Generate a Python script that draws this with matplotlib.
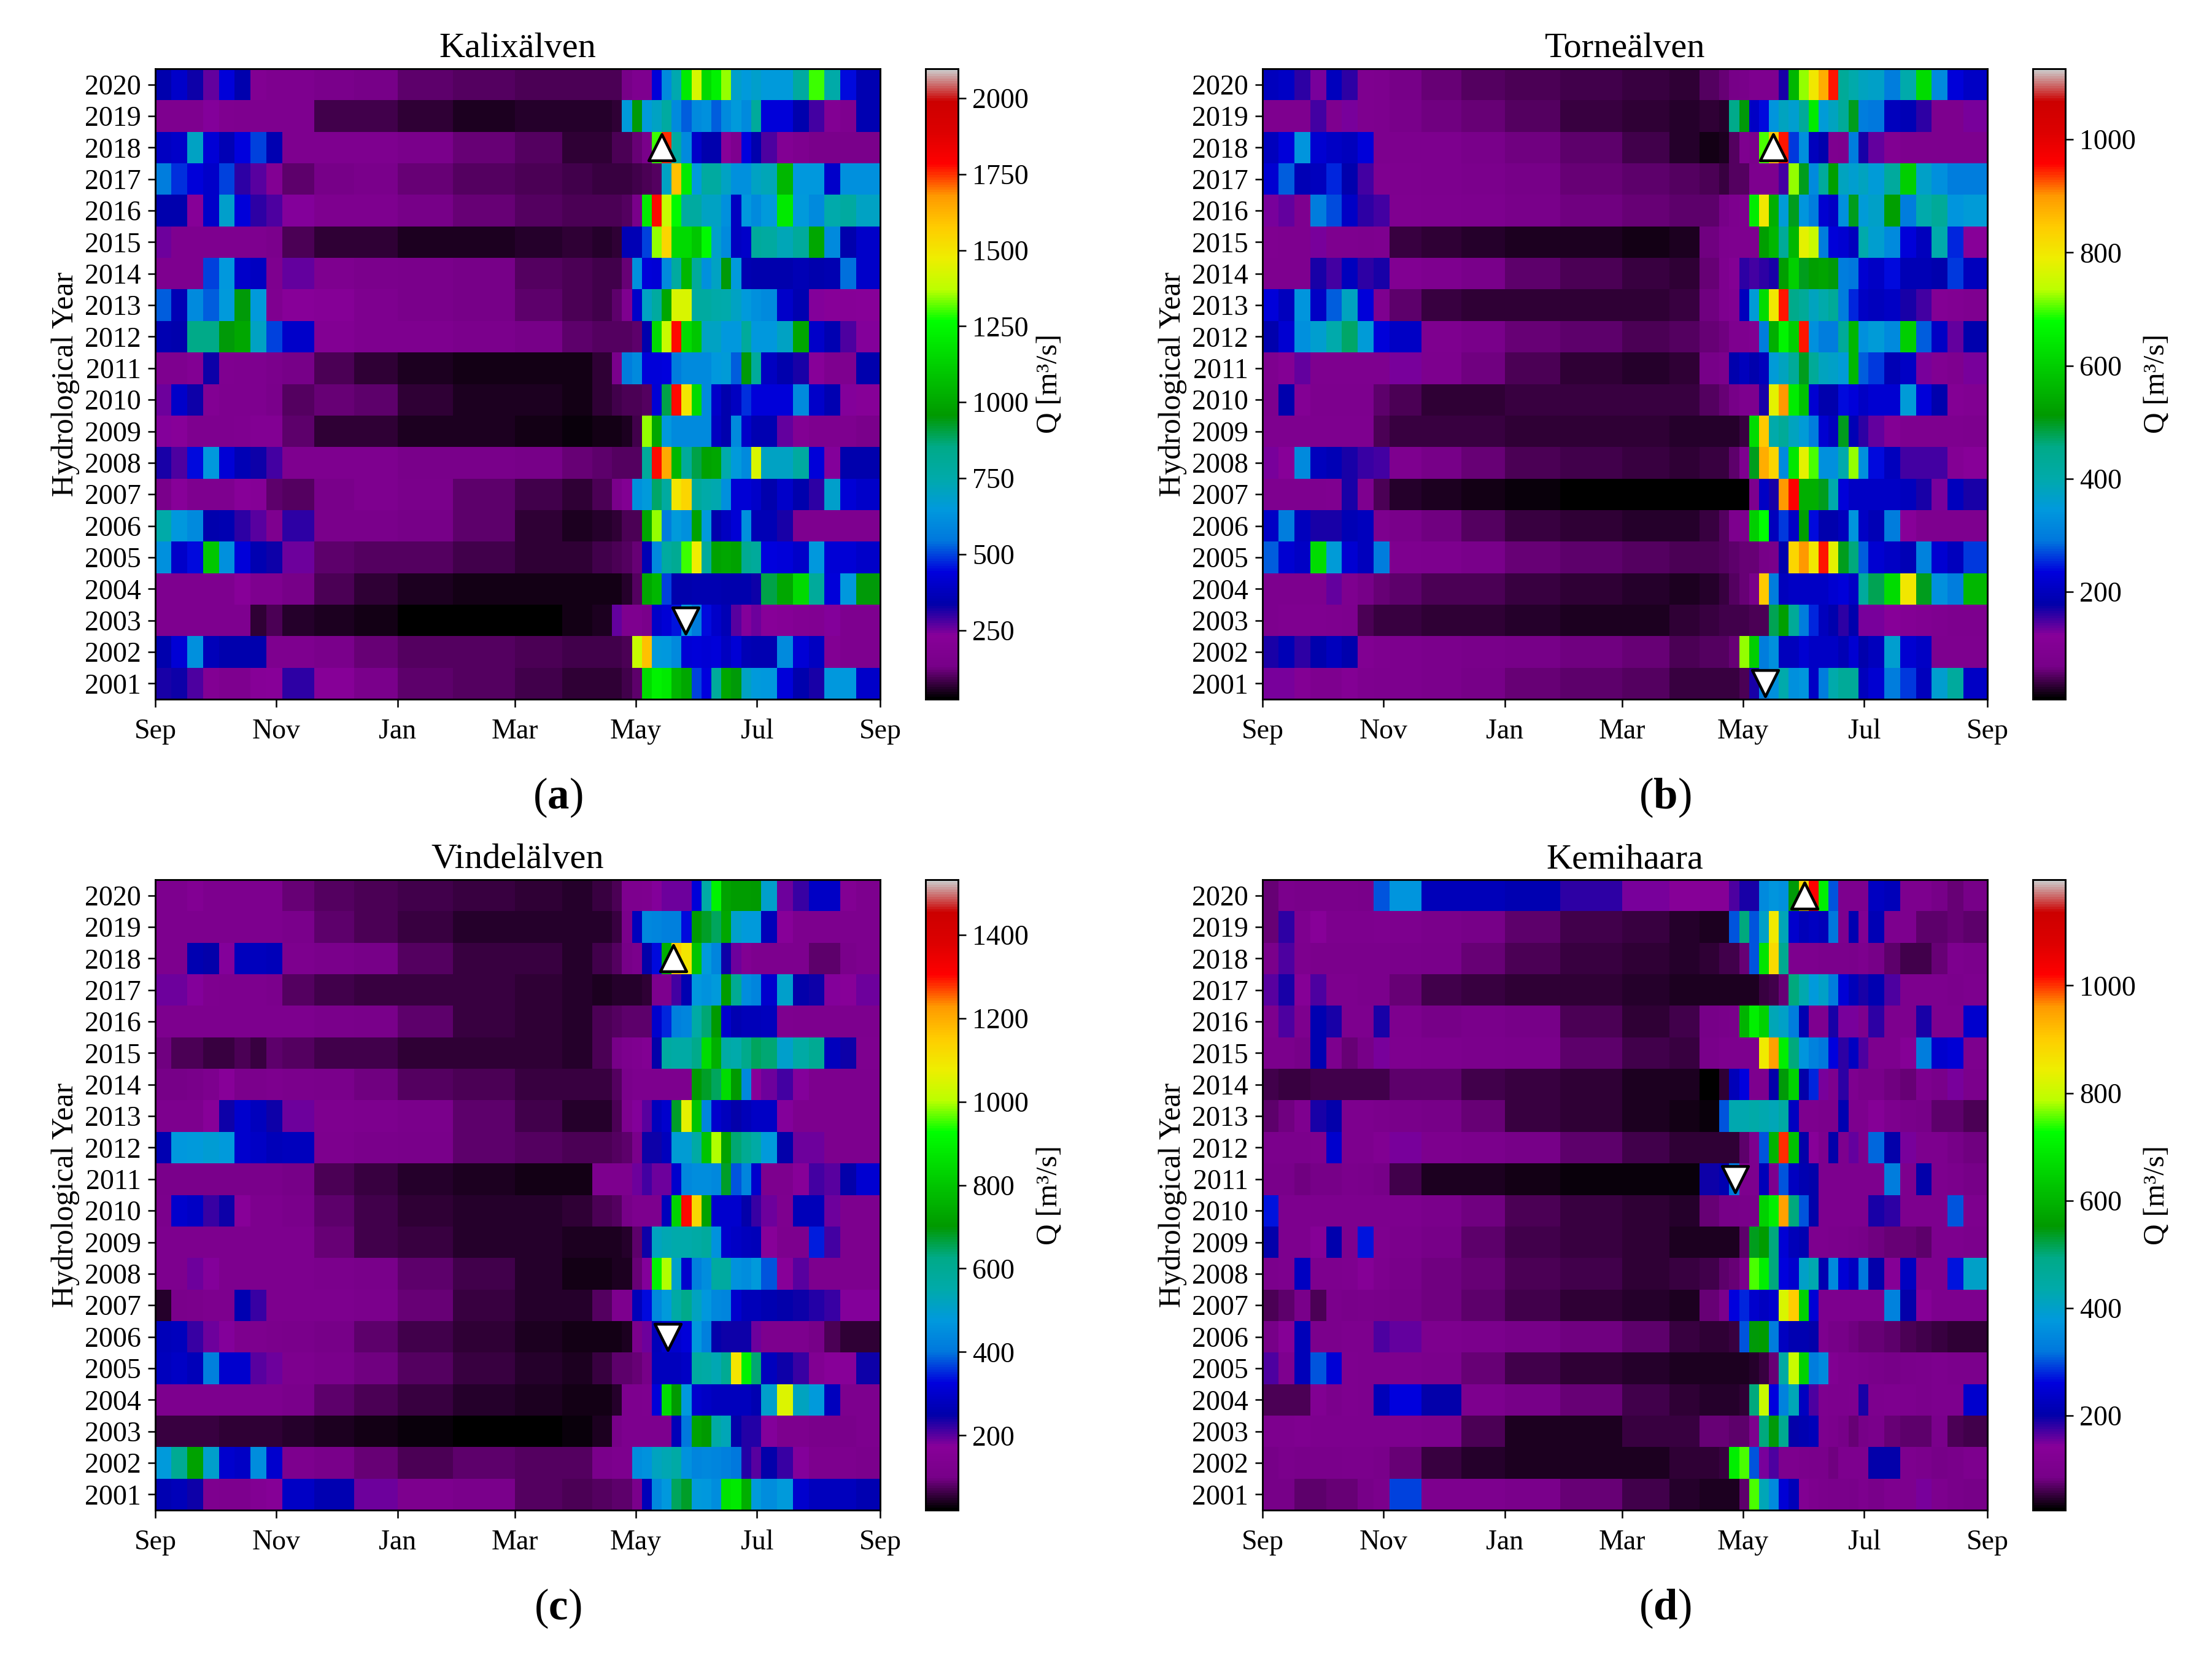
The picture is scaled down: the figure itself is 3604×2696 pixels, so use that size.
import numpy as np
import matplotlib
matplotlib.use('Agg')
import matplotlib.pyplot as plt

plt.rcParams['font.family'] = ['Liberation Serif', 'DejaVu Serif']
plt.rcParams['mathtext.fontset'] = 'custom'
plt.rcParams['mathtext.rm'] = 'Liberation Serif'
plt.rcParams['mathtext.bf'] = 'Liberation Serif:bold'

# DATA
#===========================================================================
years = list(range(2020, 2000, -1))
month_days = [0, 61, 122, 181, 242, 303, 365]
month_names = ['Sep', 'Nov', 'Jan', 'Mar', 'May', 'Jul', 'Sep']

# days since 1 Sep where each column of the rows below starts and ends
day_edges = [0, 8, 16, 24, 32, 40, 48, 56, 64,
             80, 100, 122, 150, 181, 205, 220, 230,
             235, 240, 245, 250, 255, 260, 265, 270, 275, 280, 285, 290, 295, 300, 305,
             313, 321, 329, 337, 345, 353, 365]

# discharge m3/s, rows run 2020 down to 2001
kalix = [
    [340,400,330,260,430,340,190,170, 170,150,130,110,100,90,90,90, 90,130,170,170,430,600,740,1200,1420,1150,1230,1350,680,650,680, 650,650,780,1300,760,450,350],
    [170,170,170,240,180,170,170,170, 170,80,80,65,50,60,60,60, 70,650,950,650,700,780,600,520,600,620,520,600,650,600,800, 430,430,340,290,200,170,350],
    [380,400,700,420,360,440,500,350, 170,170,170,150,120,100,70,70, 90,90,120,140,1300,1750,780,600,400,340,340,230,170,440,340, 280,200,170,150,150,150,150],
    [560,480,430,400,500,300,270,200, 110,130,150,120,100,90,80,75, 75,75,80,90,100,700,1600,1200,650,780,780,700,620,620,700, 720,1050,640,640,400,620,620],
    [340,340,220,400,680,430,300,280, 240,170,170,130,120,100,90,90, 90,100,140,1200,1780,1400,1250,780,780,700,700,620,380,640,600, 650,1200,650,600,750,780,700],
    [250,170,170,170,170,170,170,160, 90,65,70,50,55,60,65,60, 70,360,360,500,1350,1550,1150,1150,1100,1250,680,600,380,400,800, 780,720,800,1000,600,340,400],
    [170,170,170,500,640,400,380,170, 260,170,160,150,130,100,90,85, 85,120,620,430,420,600,780,1050,800,620,700,950,650,350,340, 340,340,360,340,350,540,400],
    [520,360,600,520,650,950,650,180, 230,210,170,150,130,110,90,80, 110,170,400,700,780,1000,1430,1430,780,780,760,750,700,650,620, 600,400,350,240,230,220,230],
    [350,340,850,850,950,1000,700,500, 400,200,170,170,160,130,110,100, 100,100,110,340,1150,1400,1780,1150,1100,700,700,640,640,800,640, 640,700,1000,400,350,280,240],
    [170,170,200,330,180,170,170,160, 130,90,70,55,45,45,40,70, 150,560,600,430,430,440,560,600,600,600,640,660,520,950,800, 380,340,320,230,170,170,340],
    [250,400,330,200,170,170,170,150, 100,120,110,70,55,50,45,70, 80,90,90,100,420,900,1780,1500,1150,600,400,340,380,480,430, 430,430,600,400,350,240,220],
    [240,230,170,170,170,180,200,200, 110,70,70,55,50,45,35,45, 45,50,80,1350,1000,640,600,600,600,600,380,340,600,400,350, 350,260,200,170,170,170,150],
    [320,280,450,640,420,360,330,290, 170,170,170,140,140,130,120,110, 100,100,100,800,1780,1650,1050,800,900,980,1000,750,650,600,1430, 700,700,780,430,240,340,340],
    [150,230,170,170,170,230,210,110, 100,140,170,150,110,80,70,90, 150,200,620,650,880,780,1500,1550,800,760,740,620,420,420,400, 340,400,340,300,680,420,400],
    [760,640,600,340,350,300,270,170, 300,150,150,130,110,70,50,60, 70,90,90,1000,1350,560,650,620,980,650,340,380,420,620,360, 360,320,170,170,170,170,170],
    [620,400,450,1100,620,430,350,330, 250,110,100,100,80,70,70,80, 90,100,120,360,600,780,820,1300,1480,800,980,1000,980,820,800, 440,430,400,640,420,420,400],
    [170,170,170,170,170,230,170,170, 130,90,65,55,45,40,40,40, 40,60,100,1000,1050,500,340,340,350,350,350,340,340,340,330, 900,1000,1150,800,430,640,950],
    [170,170,170,170,170,170,70,90, 60,50,40,28,25,30,45,50, 260,170,170,150,400,420,460,640,560,450,400,360,270,240,250, 230,210,200,190,240,170,170],
    [340,420,620,370,340,340,340,170, 170,150,120,100,100,90,80,80, 80,95,1400,1600,650,640,600,420,430,420,430,380,420,360,350, 350,600,420,380,200,170,170],
    [320,330,280,200,170,170,220,230, 300,220,150,110,100,80,70,70, 70,80,110,1150,1230,1200,1050,1000,500,440,800,1000,950,700,650, 640,430,340,320,640,640,400],
]
torne = [
    [200,210,160,130,200,160,90,85, 70,60,50,45,42,38,35,50, 60,70,75,90,90,90,170,560,720,800,880,950,430,400,380, 370,300,400,620,320,230,210],
    [90,90,90,150,90,130,90,85, 75,65,60,50,40,35,30,35, 30,450,510,210,240,340,380,360,430,650,350,380,430,500,300, 290,200,190,160,85,85,130],
    [200,230,340,220,210,200,230,85, 85,85,75,65,55,42,28,22, 25,50,90,80,700,850,950,260,330,200,180,90,85,300,170, 140,100,85,85,85,85,85],
    [220,280,190,200,250,180,150,95, 90,85,80,70,60,55,50,45, 40,50,50,85,85,85,150,720,500,320,420,520,380,360,380, 350,420,600,370,330,300,300],
    [130,140,90,300,270,210,160,150, 95,90,85,75,65,58,55,55, 70,85,90,650,800,550,350,500,340,300,220,210,330,500,350, 370,520,300,400,430,340,350],
    [95,90,90,130,90,90,85,90, 40,32,28,24,24,22,25,65, 85,90,90,90,520,560,430,560,780,750,300,230,220,200,400, 360,320,230,200,400,250,120],
    [90,90,90,170,150,200,160,170, 100,90,75,55,45,38,35,60, 90,110,160,150,160,170,520,600,500,520,530,510,300,290,220, 210,240,190,190,180,260,200],
    [230,200,340,210,280,380,230,90, 55,40,35,32,32,34,40,65, 90,100,200,350,620,800,950,450,430,380,400,430,300,250,210, 200,210,170,150,110,100,95],
    [180,220,330,360,400,470,350,230, 210,90,75,60,55,45,50,60, 65,90,90,100,300,550,660,600,950,330,300,300,430,560,330, 350,320,600,280,210,140,180],
    [90,110,140,90,90,90,90,90, 130,85,65,48,35,30,35,70, 80,180,200,180,200,350,380,430,500,430,380,370,350,560,280, 260,190,210,130,100,90,130],
    [85,180,110,85,85,85,85,55, 45,32,35,40,40,40,40,50, 60,70,85,85,170,780,900,650,580,220,180,180,240,230,210, 220,220,350,230,180,110,100],
    [90,90,90,90,90,90,90,45, 40,38,38,36,36,34,30,30, 30,30,40,620,850,400,430,380,350,300,220,200,500,190,160, 140,110,90,90,90,90,85],
    [130,120,320,200,190,170,155,150, 90,70,60,48,42,38,36,38, 40,55,90,500,880,830,320,640,780,700,330,330,400,720,330, 240,200,150,150,150,110,120],
    [90,90,90,90,95,170,90,45, 30,24,20,15,12,12,12,14, 14,14,14,85,210,170,900,960,550,550,500,400,230,210,210, 210,210,200,170,130,200,170],
    [210,300,200,170,170,190,200,85, 75,65,50,38,32,30,30,40, 50,85,85,600,680,200,260,210,520,240,180,180,200,340,210, 190,300,120,90,90,90,90],
    [280,220,210,620,350,220,200,300, 90,85,75,62,55,50,48,48, 50,55,60,60,70,75,180,830,900,800,950,780,500,460,280, 220,210,190,310,220,200,260],
    [85,85,85,85,140,90,70,60, 55,48,45,40,35,28,26,30, 40,50,60,75,850,300,200,210,210,210,210,220,230,210,420, 480,620,800,500,330,300,560],
    [85,95,95,95,90,85,45,40, 38,35,32,28,26,25,35,40, 42,42,42,45,45,480,520,430,300,250,200,180,160,180,130, 130,120,110,100,95,85,85],
    [170,190,160,180,200,180,100,90, 85,80,75,70,65,60,45,50, 50,60,720,600,300,330,200,200,220,210,210,210,190,220,180, 200,360,220,210,90,90,90],
    [130,130,110,90,90,110,90,85, 85,80,70,60,55,50,38,38, 38,40,45,170,300,330,400,330,340,210,300,400,430,430,200, 220,300,260,200,360,420,210],
]
vindel = [
    [125,125,150,125,125,125,125,125, 90,80,72,68,60,55,50,60, 70,125,125,130,180,190,190,190,320,560,900,720,710,710,700, 500,190,220,290,290,150,125],
    [125,125,125,125,125,125,125,125, 110,85,72,60,50,50,50,50, 60,110,280,440,430,420,420,330,700,680,650,730,500,480,480, 270,170,125,125,125,125,125],
    [125,125,260,250,180,280,280,270, 125,115,100,75,60,58,50,65, 75,100,120,250,330,750,1150,1100,800,480,430,240,190,140,125, 125,125,125,85,85,110,125],
    [190,190,180,130,125,125,125,120, 80,68,62,58,58,52,50,42, 45,45,50,55,125,125,210,260,470,460,480,710,600,450,430, 300,500,250,240,180,170,190],
    [125,125,125,125,125,125,125,125, 125,115,105,85,60,55,50,70, 80,85,85,85,300,350,420,430,560,640,700,300,260,270,270, 280,130,125,125,125,125,125],
    [95,70,70,60,60,70,60,85, 75,65,65,55,55,52,50,70, 100,125,135,150,250,570,560,560,620,850,750,560,550,620,650, 640,500,560,600,280,240,130],
    [100,100,105,125,170,120,120,125, 120,110,95,80,72,62,58,60, 75,110,125,125,125,125,125,125,700,680,650,850,700,440,170, 190,210,180,125,125,125,125],
    [125,125,125,170,240,300,280,240, 190,130,125,110,85,65,50,50, 70,125,180,200,280,300,680,1060,800,430,300,280,250,270,290, 290,180,125,125,125,125,125],
    [260,470,480,490,480,300,290,270, 280,125,115,105,85,75,70,70, 80,85,110,240,240,280,490,490,560,800,1000,720,640,600,560, 480,250,190,190,125,125,125],
    [115,115,115,115,115,115,115,115, 100,70,60,50,42,38,35,125, 125,125,190,210,190,190,300,440,450,450,440,680,380,430,300, 125,125,170,210,200,250,310],
    [120,300,290,220,240,170,125,125, 115,85,68,55,48,45,55,70, 75,100,125,125,125,280,830,1300,1130,720,300,300,300,250,220, 190,130,270,270,190,125,125],
    [125,125,125,125,125,125,125,125, 125,90,68,58,48,46,44,44, 44,50,85,240,520,540,550,550,560,580,460,300,290,280,270, 170,125,125,340,210,125,125],
    [125,125,190,180,125,125,125,125, 125,120,105,85,65,48,38,38, 40,42,90,180,900,1000,500,300,420,450,570,570,460,450,480, 380,170,200,125,125,125,125],
    [45,110,120,125,125,260,220,125, 125,125,120,90,62,48,48,80, 125,125,270,330,440,480,560,620,520,470,440,430,300,270,270, 260,250,240,230,220,180,180],
    [270,280,220,190,175,125,125,120, 115,100,85,68,55,42,35,35, 38,40,120,190,270,300,300,320,470,420,250,240,240,240,190, 125,125,125,100,70,55,55],
    [280,290,270,420,300,300,200,190, 125,115,95,75,60,48,40,60, 85,85,90,100,280,280,280,290,570,560,540,600,1100,900,640, 280,240,220,140,170,170,240],
    [125,125,125,125,125,125,125,125, 110,85,72,60,48,40,36,36, 50,125,125,130,320,850,700,470,300,290,280,280,280,280,260, 500,1050,520,480,280,125,125],
    [60,60,60,58,55,55,55,55, 50,42,35,28,22,24,28,40, 100,125,125,125,125,125,270,400,720,700,560,530,250,230,230, 180,125,125,115,115,115,125],
    [480,600,720,500,300,290,450,300, 125,105,90,72,85,80,75,110, 125,125,450,460,520,540,560,460,430,440,430,420,400,230,200, 250,220,180,125,125,125,120],
    [260,270,240,130,125,125,150,160, 290,260,190,125,115,80,70,80, 85,85,110,270,440,470,650,680,480,470,450,870,880,750,480, 450,480,300,280,280,280,260],
]
kemi = [
    [75,100,90,95,95,95,90,300, 370,220,220,210,180,150,135,130, 130,170,190,190,350,370,360,550,880,1020,700,300,105,105,105, 230,220,105,105,85,75,85],
    [75,180,110,140,105,105,105,110, 105,95,85,72,60,55,45,42, 40,300,500,300,400,850,420,240,220,230,220,320,105,210,120, 215,105,105,70,70,75,70],
    [95,170,105,100,100,100,100,100, 95,90,75,65,55,50,45,50, 60,60,75,300,680,880,480,105,105,105,100,100,100,95,105, 85,70,60,60,75,105,100],
    [165,190,130,170,105,105,100,100, 75,60,55,50,48,44,42,40, 40,40,40,40,55,60,75,500,430,380,400,330,250,220,190, 210,170,105,105,105,100,105],
    [105,170,105,210,190,105,105,190, 105,85,95,85,65,50,60,85, 90,95,600,700,650,420,400,330,210,110,110,190,150,150,105, 180,105,105,190,105,105,240],
    [100,100,85,210,105,75,85,150, 110,105,100,95,70,60,55,90, 105,105,105,105,850,950,700,500,370,340,320,260,180,230,170, 105,105,130,330,240,250,105],
    [60,55,55,60,60,58,58,60, 72,70,60,55,48,42,38,25, 50,220,260,105,105,200,550,650,200,280,150,105,180,110,90, 90,80,75,105,90,150,100],
    [70,80,110,190,200,105,105,100, 90,85,75,55,48,42,35,30, 300,430,430,440,430,420,450,230,105,105,100,100,210,105,105, 130,105,90,85,70,70,65],
    [100,100,100,105,240,105,105,120, 150,105,100,85,72,60,50,48, 48,48,70,105,300,600,1000,620,200,140,105,200,105,160,105, 310,200,150,105,105,85,80],
    [90,90,80,85,85,100,95,85, 60,42,38,35,33,30,30,195, 210,320,105,105,220,105,300,230,210,200,105,105,105,105,105, 105,330,105,200,105,100,85],
    [270,105,105,105,105,105,105,105, 105,95,80,65,55,50,45,75, 85,85,90,90,650,700,950,500,300,200,105,105,105,105,105, 190,180,105,105,105,300,105],
    [200,105,105,130,205,105,270,110, 100,85,72,60,52,48,42,42, 42,42,70,540,560,500,250,220,210,105,105,100,100,90,85, 80,75,75,70,105,105,100],
    [100,105,230,105,105,110,130,105, 90,80,75,65,60,50,52,60, 70,75,100,750,700,500,260,240,400,430,210,350,250,230,320, 200,130,230,105,105,270,400],
    [65,70,90,65,100,90,95,90, 85,80,70,60,50,45,40,75, 100,260,280,240,230,240,820,900,650,250,105,105,105,105,105, 105,340,200,130,105,105,105],
    [85,130,220,100,100,105,105,170, 160,105,100,85,80,70,55,50, 50,55,300,550,560,330,230,210,210,200,105,85,85,80,75, 75,70,65,60,55,50,50],
    [170,110,220,300,250,110,105,105, 105,100,75,60,48,44,42,42, 42,42,42,45,55,75,450,800,650,330,350,120,105,105,100, 90,85,95,100,105,100,100],
    [65,62,65,120,100,110,105,220, 260,200,105,85,75,60,48,45, 45,45,48,500,800,260,340,420,230,170,110,105,105,110,190, 105,110,105,100,105,105,240],
    [105,105,115,105,105,105,105,105, 105,100,65,40,42,55,52,75, 75,70,70,105,500,550,480,200,210,220,105,100,85,75,85, 95,75,70,70,95,65,60],
    [85,100,90,95,95,100,100,90, 75,55,45,42,40,42,50,50, 55,700,750,300,150,170,105,105,100,95,95,80,105,105,105, 200,200,105,100,85,90,105],
    [85,85,70,70,75,75,85,100, 290,105,105,95,75,60,45,42, 38,40,70,750,420,350,250,220,120,105,100,95,95,90,105, 90,110,105,150,105,90,85],
]

titles = ['Kalixälven', 'Torneälven', 'Vindelälven', 'Kemihaara']
panel_tags = ['a', 'b', 'c', 'd']
panels = [kalix, torne, vindel, kemi]
color_limits = [(23, 2097), (10, 1125), (21, 1532), (24, 1197)]
bar_ticks = [list(range(250, 2001, 250)), list(range(200, 1001, 200)),
             list(range(200, 1401, 200)), list(range(200, 1001, 200))]

# flood markers per panel: (day, year)
max_flood = [(255, 2018), (257, 2018), (261, 2018), (273, 2020)]
min_flood = [(267, 2003), (253, 2001), (258, 2006), (238, 2011)]

# FIGURE
#===========================================================================
W, H = 3604, 2696
fig = plt.figure(figsize=(W / 300, H / 300), dpi=300)

# pixel boxes of the panels
lefts = [253, 2057, 253, 2057]
tops = [112, 112, 1433, 1433]
ax_w, ax_h = 1181, 1027
bar_gap, bar_w = 74, 53


def px_box(x, y, w, h):
    return [x / W, 1 - (y + h) / H, w / W, h / H]


row_edges = np.arange(len(years) + 1) - 0.5

for i in range(4):
    ax = fig.add_axes(px_box(lefts[i], tops[i], ax_w, ax_h))
    Q = np.array(panels[i], dtype=float)
    mesh = ax.pcolormesh(day_edges, row_edges, Q, cmap='nipy_spectral',
                         vmin=color_limits[i][0], vmax=color_limits[i][1], shading='flat')
    ax.set_xlim(0, 365)
    ax.set_ylim(len(years) - 0.5, -0.5)
    ax.set_xticks(month_days)
    ax.set_xticklabels(month_names)
    ax.set_yticks(range(len(years)))
    ax.set_yticklabels(years)
    ax.tick_params(labelsize=11, length=3, width=0.6, pad=2.5)
    ax.tick_params(axis='x', pad=4.5)
    ax.set_ylabel('Hydrological Year', fontsize=12, labelpad=2)
    ax.set_title(titles[i], fontsize=14, pad=4.5)
    for s in ax.spines.values():
        s.set_linewidth(0.7)

    # triangles for largest and smallest spring flood
    day_up, year_up = max_flood[i]
    day_dn, year_dn = min_flood[i]
    ax.scatter([day_up], [years.index(year_up)], marker='^', s=105, c='white',
               edgecolors='black', linewidths=1.1, zorder=5)
    ax.scatter([day_dn], [years.index(year_dn)], marker='v', s=105, c='white',
               edgecolors='black', linewidths=1.1, zorder=5)

    cax = fig.add_axes(px_box(lefts[i] + ax_w + bar_gap, tops[i], bar_w, ax_h))
    cbar = fig.colorbar(mesh, cax=cax)
    cbar.set_ticks(bar_ticks[i])
    cbar.ax.tick_params(labelsize=11, length=3, width=0.6, pad=2.5)
    cbar.outline.set_linewidth(0.7)
    cbar.set_label('Q [m³/s]', fontsize=11.5, labelpad=3)

    fig.text((lefts[i] + 656) / W, 1 - (tops[i] + 1187) / H,
             r'(' + r'$\mathbf{' + panel_tags[i] + r'}$' + r')',
             fontsize=17, ha='center', va='center')

fig.savefig('out.png', dpi=300, facecolor='white')
